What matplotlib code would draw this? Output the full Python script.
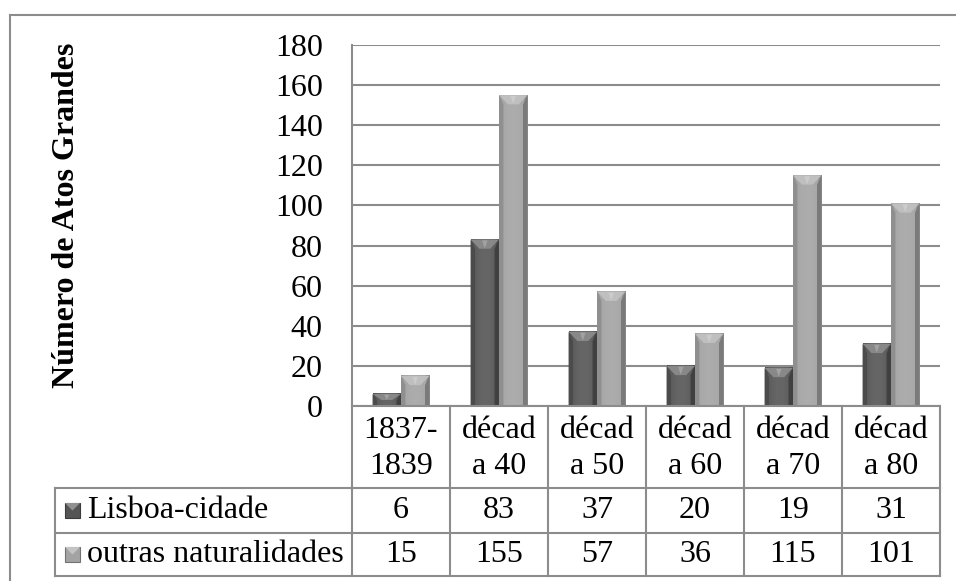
import matplotlib
matplotlib.use("Agg")
import matplotlib.pyplot as plt
import numpy as np
from matplotlib.patches import Polygon, Rectangle
from matplotlib.lines import Line2D

plt.rcParams['font.family'] = ['Liberation Serif', 'DejaVu Serif']

categories = ["1837-\n1839", "décad\na 40", "décad\na 50", "décad\na 60", "décad\na 70", "décad\na 80"]
series_names = ["Lisboa-cidade", "outras naturalidades"]
lisboa = [6, 83, 37, 20, 19, 31]
outras = [15, 155, 57, 36, 115, 101]
yticks = [0, 20, 40, 60, 80, 100, 120, 140, 160, 180]
ylabel = "Número de Atos Grandes"

FS = 23

W, H = 956, 581
fig = plt.figure(figsize=(W / 100, H / 100), dpi=100)

def fx(px):
    return px / W

def fy(py):
    return 1 - py / H

# plot area
L, R, T, B = 352, 940, 45, 406
ax = fig.add_axes([fx(L), fy(B), fx(R) - fx(L), fy(T) - fy(B)])
ax.set_xlim(-0.5, len(categories) - 0.5)
ax.set_ylim(0, 180)
ax.set_yticks(yticks)
ax.set_yticklabels([str(v) for v in yticks], fontsize=FS)
ax.tick_params(axis='y', length=0, pad=21)
ax.set_xticks([])
for s in ['top', 'right', 'bottom']:
    ax.spines[s].set_visible(False)
ax.spines['left'].set_color('#8c8c8c')
ax.spines['left'].set_linewidth(1.5)
ax.yaxis.grid(True, color='#8c8c8c', linewidth=1.5)
ax.set_axisbelow(True)

GRID = '#8c8c8c'

bw = 0.29
x = np.arange(len(categories))

def shade(c, f):
    c = np.array(matplotlib.colors.to_rgb(c))
    if f >= 0:
        return tuple(c + (1 - c) * f)
    return tuple(c * (1 + f))

def bevel_bar(x0, w, h, base, zorder=3):
    n = 64
    t = np.linspace(0, 1, n)
    prof = 0.10 * np.sin(np.pi * t) - 0.12 * (t > 0.88) - 0.06 * (t < 0.08)
    cols = np.array([shade(base, p) for p in prof])[None, :, :]
    ax.imshow(cols, extent=[x0, x0 + w, 0, h], aspect='auto', zorder=zorder,
              interpolation='bilinear')
    bx = 0.09
    by = 4.6
    if h < 2 * by:
        by_e = by * h / (2 * by)
    else:
        by_e = by
    bx_e = bx
    top = Polygon([(x0, h), (x0 + w, h), (x0 + w - bx_e, h - by_e), (x0 + bx_e, h - by_e)],
                  closed=True, facecolor=shade(base, 0.30), edgecolor='none', zorder=zorder + 0.1)
    ax.add_patch(top)
    mid = Polygon([(x0 + w * 0.5, h - by_e * 0.95), (x0 + bx_e * 1.3, h - by_e * 0.1),
                   (x0 + w - bx_e * 1.3, h - by_e * 0.1)],
                  closed=True, facecolor=shade(base, 0.45), edgecolor='none', zorder=zorder + 0.15)
    ax.add_patch(mid)
    lft = Polygon([(x0, h), (x0 + bx_e * 0.5, h - by_e), (x0 + bx_e * 0.5, 0), (x0, 0)],
                  closed=True, facecolor=shade(base, -0.12), edgecolor='none', zorder=zorder + 0.05)
    rgt = Polygon([(x0 + w, h), (x0 + w - bx_e * 0.5, h - by_e), (x0 + w - bx_e * 0.5, 0), (x0 + w, 0)],
                  closed=True, facecolor=shade(base, -0.25), edgecolor='none', zorder=zorder + 0.05)
    ax.add_patch(lft)
    ax.add_patch(rgt)

DARK = '#555555'
LIGHT = '#a3a3a3'
bars1 = ax.bar(x - bw / 2, lisboa, bw, color='none', edgecolor='none')
bars2 = ax.bar(x + bw / 2, outras, bw, color='none', edgecolor='none')
for b in bars1:
    bevel_bar(b.get_x(), b.get_width(), b.get_height(), DARK)
for b in bars2:
    bevel_bar(b.get_x(), b.get_width(), b.get_height(), LIGHT)
ax.set_xlim(-0.5, len(categories) - 0.5)
ax.set_ylim(0, 180)

# y label
fig.text(fx(67), fy(215), ylabel, rotation=90, ha='center', va='center',
         fontsize=23, fontweight='bold')

# data table
col_w = (R - L) / len(categories)
row1 = (488, 533)
row2 = (533, 576)
hdr_left = 55

def hline(y, x0, x1):
    fig.add_artist(Line2D([fx(x0), fx(x1)], [fy(y), fy(y)], color=GRID, lw=1.5))

def vline(xp, y0, y1):
    fig.add_artist(Line2D([fx(xp), fx(xp)], [fy(y0), fy(y1)], color=GRID, lw=1.5))

hline(B, L, R)
hline(488, hdr_left, R)
hline(533, hdr_left, R)
hline(576, hdr_left, R)
for i in range(len(categories) + 1):
    vline(L + i * col_w, B, 576)
vline(hdr_left, 488, 576)

for i, c in enumerate(categories):
    cx = L + (i + 0.5) * col_w
    top_line, bot_line = c.split("\n")
    fig.text(fx(cx), fy(430), top_line, ha='center', va='center', fontsize=FS)
    fig.text(fx(cx), fy(467), bot_line, ha='center', va='center', fontsize=FS)
    fig.text(fx(cx), fy(sum(row1) / 2), str(lisboa[i]), ha='center', va='center', fontsize=FS)
    fig.text(fx(cx), fy(sum(row2) / 2), str(outras[i]), ha='center', va='center', fontsize=FS)

# legend keys
for (r0, r1), name, base in [(row1, series_names[0], DARK), (row2, series_names[1], LIGHT)]:
    cy = (r0 + r1) / 2
    k = 15
    kx = 65
    fig.add_artist(Rectangle((fx(kx), fy(cy + k / 2)), fx(k), fy(0) - fy(k), facecolor=base,
                             edgecolor=shade(base, -0.3), lw=0.8))
    fig.add_artist(Polygon([(fx(kx), fy(cy - k / 2)), (fx(kx + k), fy(cy - k / 2)),
                            (fx(kx + k / 2), fy(cy))], closed=True,
                           facecolor=shade(base, 0.35), edgecolor='none'))
    fig.text(fx(87), fy(cy), name, ha='left', va='center', fontsize=FS)

# outer border
fig.add_artist(Line2D([fx(9.5), fx(9.5)], [fy(14.5), 0], color='#8c8c8c', lw=1.5))
fig.add_artist(Line2D([fx(9.5), 1], [fy(14.5), fy(14.5)], color='#8c8c8c', lw=1.5))

fig.savefig("out.png", dpi=100)
